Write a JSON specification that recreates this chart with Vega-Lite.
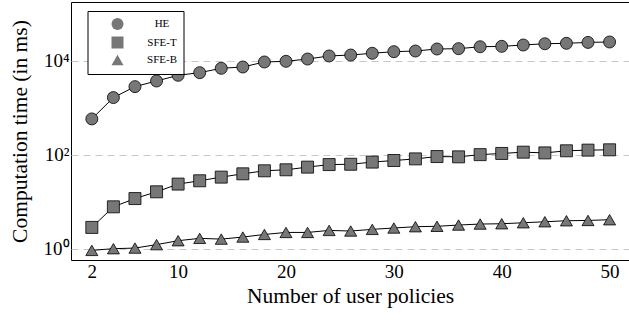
{
  "$schema": "https://vega.github.io/schema/vega-lite/v6.json",
  "autosize": "none",
  "width": 558,
  "height": 258,
  "padding": {"left": 71, "top": 2, "right": 0, "bottom": 75},
  "background": "white",
  "config": {
    "font": "Liberation Serif",
    "view": {"stroke": "black", "strokeWidth": 1}
  },
  "data": {"values": [
    {"n":2,"series":"HE","t":583},{"n":4,"series":"HE","t":1660},{"n":6,"series":"HE","t":2840},{"n":8,"series":"HE","t":3750},{"n":10,"series":"HE","t":4950},{"n":12,"series":"HE","t":5640},{"n":14,"series":"HE","t":6980},{"n":16,"series":"HE","t":7450},{"n":18,"series":"HE","t":9520},{"n":20,"series":"HE","t":9840},{"n":22,"series":"HE","t":11000},{"n":24,"series":"HE","t":12800},{"n":26,"series":"HE","t":13400},{"n":28,"series":"HE","t":14600},{"n":30,"series":"HE","t":15800},{"n":32,"series":"HE","t":16300},{"n":34,"series":"HE","t":18000},{"n":36,"series":"HE","t":18300},{"n":38,"series":"HE","t":20100},{"n":40,"series":"HE","t":20500},{"n":42,"series":"HE","t":21900},{"n":44,"series":"HE","t":23300},{"n":46,"series":"HE","t":23800},{"n":48,"series":"HE","t":24900},{"n":50,"series":"HE","t":25400},
    {"n":2,"series":"SFE-T","t":2.84},{"n":4,"series":"SFE-T","t":7.8},{"n":6,"series":"SFE-T","t":11.7},{"n":8,"series":"SFE-T","t":16.3},{"n":10,"series":"SFE-T","t":23.8},{"n":12,"series":"SFE-T","t":28},{"n":14,"series":"SFE-T","t":33.5},{"n":16,"series":"SFE-T","t":39.4},{"n":18,"series":"SFE-T","t":45.7},{"n":20,"series":"SFE-T","t":48},{"n":22,"series":"SFE-T","t":54.7},{"n":24,"series":"SFE-T","t":62},{"n":26,"series":"SFE-T","t":63},{"n":28,"series":"SFE-T","t":70},{"n":30,"series":"SFE-T","t":75.7},{"n":32,"series":"SFE-T","t":82},{"n":34,"series":"SFE-T","t":92},{"n":36,"series":"SFE-T","t":90.6},{"n":38,"series":"SFE-T","t":101},{"n":40,"series":"SFE-T","t":107},{"n":42,"series":"SFE-T","t":114},{"n":44,"series":"SFE-T","t":110},{"n":46,"series":"SFE-T","t":122},{"n":48,"series":"SFE-T","t":126},{"n":50,"series":"SFE-T","t":128},
    {"n":2,"series":"SFE-B","t":0.92},{"n":4,"series":"SFE-B","t":1.0},{"n":6,"series":"SFE-B","t":1.03},{"n":8,"series":"SFE-B","t":1.22},{"n":10,"series":"SFE-B","t":1.48},{"n":12,"series":"SFE-B","t":1.66},{"n":14,"series":"SFE-B","t":1.6},{"n":16,"series":"SFE-B","t":1.77},{"n":18,"series":"SFE-B","t":2.01},{"n":20,"series":"SFE-B","t":2.22},{"n":22,"series":"SFE-B","t":2.22},{"n":24,"series":"SFE-B","t":2.45},{"n":26,"series":"SFE-B","t":2.38},{"n":28,"series":"SFE-B","t":2.58},{"n":30,"series":"SFE-B","t":2.76},{"n":32,"series":"SFE-B","t":2.94},{"n":34,"series":"SFE-B","t":3.0},{"n":36,"series":"SFE-B","t":3.19},{"n":38,"series":"SFE-B","t":3.35},{"n":40,"series":"SFE-B","t":3.4},{"n":42,"series":"SFE-B","t":3.57},{"n":44,"series":"SFE-B","t":3.75},{"n":46,"series":"SFE-B","t":3.94},{"n":48,"series":"SFE-B","t":4.0},{"n":50,"series":"SFE-B","t":4.14}
  ]},
  "layer": [
    {
      "mark": {"type": "line", "color": "black", "strokeWidth": 1},
      "encoding": {
        "x": {"field": "n", "type": "quantitative", "scale": {"domain": [0.07, 51.8], "nice": false, "zero": false},
          "axis": {"orient": "bottom", "title": "Number of user policies", "titleFont": "Liberation Serif", "titleFontSize": 21.5, "titleFontWeight": "normal", "titleColor": "black", "values": [2,10,20,30,40,50], "labelFontSize": 19, "labelColor": "black", "ticks": false, "domain": false, "grid": false}},
        "y": {"field": "t", "type": "quantitative", "scale": {"type": "log", "domain": [0.574, 180700], "nice": false},
          "axis": {"orient": "left", "title": "Computation time (in ms)", "titleFont": "Liberation Serif", "titleFontSize": 21.5, "titleFontWeight": "normal", "titleColor": "black", "titlePadding": 12, "values": [1,100,10000], "labelExpr": "datum.value == 1 ? '10⁰' : datum.value == 100 ? '10²' : '10⁴'", "labelFontSize": 19, "labelColor": "black", "ticks": false, "domain": false, "grid": true, "gridColor": "#c8c8c8", "gridDash": [7,5]}},
        "detail": {"field": "series"}
      }
    },
    {
      "mark": {"type": "point", "filled": true, "fill": "#777777", "stroke": "black", "strokeWidth": 0.8, "size": 144, "opacity": 1},
      "encoding": {
        "x": {"field": "n", "type": "quantitative"},
        "y": {"field": "t", "type": "quantitative"},
        "shape": {"field": "series", "type": "nominal",
          "scale": {"domain": ["HE","SFE-T","SFE-B"], "range": ["circle","square","triangle-up"]},
          "legend": {
            "title": null, "orient": "none", "legendX": 16.5, "legendY": 9,
            "strokeColor": "black", "fillColor": "white", "padding": 6.5, "cornerRadius": 0,
            "symbolSize": 144, "symbolOffset": 17, "symbolOpacity": 1, "symbolFillColor": "#777777", "symbolStrokeColor": "black", "symbolStrokeWidth": 0.8,
            "labelFont": "Liberation Serif", "labelColor": "black", "labelFontSize": 11, "labelAlign": "center", "labelOffset": 38, "rowPadding": 1.5}
        }
      }
    }
  ]
}
